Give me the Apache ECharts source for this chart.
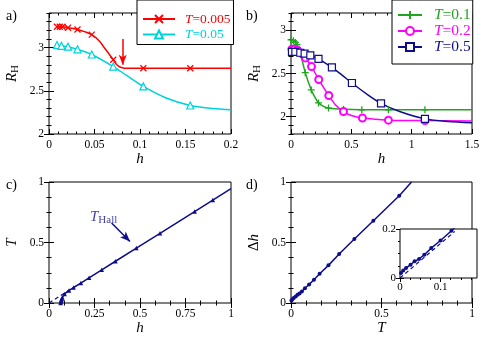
<!DOCTYPE html>
<html><head><meta charset="utf-8">
<script src="https://cdn.jsdelivr.net/npm/echarts@6/dist/echarts.min.js"></script>
<style>html,body{margin:0;padding:0;background:#fff}#c{width:485px;height:352px}</style>
</head><body><div id="c"></div>
<script>
// ---------- data ----------
// panel a: R_H vs h
const aRedMarkH = [0.0088,0.0118,0.0148,0.0209,0.0313,0.047,0.0706,0.1037,0.1552];
const aRedMarkR = [3.24,3.24,3.24,3.23,3.21,3.15,2.86,2.76,2.76];
const aRedFitH  = [0.039,0.055,0.06,0.065,0.0745,0.078,0.083,0.09,0.13,0.2];
const aRedFitR  = [3.185,3.08,3.01,2.94,2.80,2.775,2.762,2.76,2.76,2.76];
const aCyMarkH  = [0.0088,0.0137,0.0209,0.0313,0.047,0.0706,0.1037,0.1552];
const aCyMarkR  = [3.03,3.02,3.01,2.98,2.92,2.78,2.55,2.33];
const aCyFitH   = [0.085,0.128,0.18,0.2];
const aCyFitR   = [2.68,2.42,2.295,2.28];
const aArrowH = [0.081,0.081], aArrowR = [3.10,2.80];
// panel b
const bGrMarkH = [0.0,0.02,0.036,0.05,0.118,0.168,0.228,0.311,0.435,0.587,0.807,1.11];
const bGrMarkR = [2.89,2.88,2.86,2.835,2.51,2.31,2.16,2.10,2.085,2.08,2.08,2.08];
const bGrFitH  = [0.085,0.2,0.27,1.5];
const bGrFitR  = [2.69,2.22,2.12,2.08];
const bMgMarkH = [0.008,0.025,0.055,0.09,0.12,0.17,0.23,0.313,0.435,0.592,0.807,1.11];
const bMgMarkR = [2.78,2.78,2.77,2.73,2.68,2.58,2.43,2.245,2.06,1.985,1.96,1.955];
const bMgFitH  = [0.37,0.5,1.5];
const bMgFitR  = [2.135,2.015,1.95];
const bNvMarkH = [0.008,0.036,0.077,0.113,0.16,0.228,0.339,0.505,0.746,1.11];
const bNvMarkR = [2.75,2.75,2.74,2.73,2.71,2.67,2.57,2.39,2.155,1.975];
const bNvFitH  = [0.42,0.62,0.9,1.3,1.5];
const bNvFitR  = [2.485,2.27,2.06,1.945,1.93];
// panel c: T_Hall(h)
const cMarkH = [0.064,0.065,0.066,0.068,0.07,0.073,0.086,0.11,0.135,0.175,0.22,0.29,0.365,0.48,0.61,0.8,0.9];
const cMarkT = [0.0,0.008,0.016,0.026,0.036,0.045,0.075,0.104,0.128,0.165,0.208,0.274,0.345,0.454,0.576,0.756,0.851];
const cFitH  = [0.063,1.0];
const cFitT  = [0.0,0.945];
const cDashH = [0.0,0.13], cDashT = [0.0,0.125];
const cArrowH = [0.344,0.445], cArrowT = [0.661,0.509];
const cLabelH = [0.30], cLabelT = [0.713];
// panel d: Δh vs T
const dMarkT  = [0.0025,0.008,0.015,0.026,0.036,0.047,0.06,0.077,0.1,0.127,0.158,0.207,0.266,0.35,0.455,0.598];
const dMarkDh = [0.02,0.031,0.041,0.054,0.068,0.078,0.095,0.122,0.153,0.193,0.242,0.311,0.405,0.529,0.68,0.887];
const dFitT = [0.666], dFitDh = [1.0];
const dDashT = [0.0,0.135], dDashDh = [0.0,0.19];
// tick labels
const aTickX=[0,0.05,0.1,0.15,0.2], aTickY=[2,2.5,3];
const bTickX=[0,0.5,1,1.5],        bTickY=[2,2.5,3];
const cTickX=[0,0.25,0.5,0.75,1],  cTickY=[0,0.5,1];
const dTickX=[0,0.5,1],            dTickY=[0,0.5,1];
const iTickX=[0,0.1],              iTickY=[0,0.2];

// ---------- styling ----------
const FONT = '"Liberation Serif","Times New Roman",serif';
const RED='#ff0000', CYAN='#00d2dc', GREEN='#1fa61f', MAG='#ff00ff', NAVY='#0d0d8c';

function ticks(min,max,step){const o=[];for(let k=0;min+k*step<=max+1e-9;k++)o.push(+(min+k*step).toFixed(6));return o;}
function pairs(xs,ys){return xs.map((x,i)=>[x,ys[i]]);}
function merged(mx,my,fx,fy){
  const p = mx.map((x,i)=>({value:[x,my[i]]}));
  fx.forEach((x,i)=>p.push({value:[x,fy[i]],symbol:'none'}));
  p.sort((a,b)=>a.value[0]-b.value[0] || a.value[1]-b.value[1]);
  return p;
}
const rich = (c,fs)=>({
  i:{fontFamily:FONT,fontStyle:'italic',fontSize:fs,color:c},
  n:{fontFamily:FONT,fontSize:fs,color:c},
  s:{fontFamily:FONT,fontSize:Math.round(fs*0.7),color:c,padding:[7,0,0,0]}
});

const xAxes=[], yAxes=[];
function addAxes(list,dim,g,min,max,majors,step,o){
  const i0=list.length, minors=ticks(min,max,step);
  const pos = dim==='x'?['bottom','top']:['left','right'];
  for(let s=0;s<2;s++) for(let m=0;m<2;m++){
    const major = m===0;
    const ax = {gridIndex:g,type:'value',min,max,position:pos[s],
      splitLine:{show:false},axisLine:{show:false},axisPointer:{show:false},
      axisTick:{show:true,inside:true,length:major?o.maj:o.mn,customValues:major?majors:minors,lineStyle:{color:'#000',width:1}},
      axisLabel:{show:s===0&&major,customValues:majors,margin:o.margin,fontSize:o.fs,fontFamily:FONT,color:'#000'}};
    if(s===0&&major&&o.name){
      ax.name=o.name; ax.nameLocation='middle'; ax.nameGap=o.gap; ax.nameRotate=dim==='y'?90:0;
      ax.nameTextStyle={fontFamily:FONT,color:'#000',rich:rich('#000',o.nfs||15)};
    }
    list.push(ax);
  }
  return i0;
}
const M = {maj:5,mn:2.5,margin:5,fs:11.5};
const ax = {
  a:[addAxes(xAxes,'x',0,0,0.2,aTickX,0.01,{...M,name:'{i|h}',gap:7}), addAxes(yAxes,'y',0,2,3.4,aTickY,0.1,{...M,name:'{i|R}{s|H}',gap:28})],
  b:[addAxes(xAxes,'x',1,0,1.5,bTickX,0.1,{...M,name:'{i|h}',gap:7}), addAxes(yAxes,'y',1,1.8,3.2,bTickY,0.1,{...M,name:'{i|R}{s|H}',gap:28})],
  c:[addAxes(xAxes,'x',2,0,1,cTickX,1/12,{...M,name:'{i|h}',gap:7}), addAxes(yAxes,'y',2,0,1,cTickY,0.125,{...M,name:'{i|T}',gap:29})],
  d:[addAxes(xAxes,'x',3,0,1,dTickX,1/12,{...M,name:'{i|T}',gap:7}), addAxes(yAxes,'y',3,0,1,dTickY,0.125,{...M,name:'{n|Δ}{i|h}',gap:29})],
  i:[addAxes(xAxes,'x',4,0,0.19,iTickX,0.025,{maj:4,mn:2,margin:4,fs:11}), addAxes(yAxes,'y',4,0,0.2,iTickY,0.05,{maj:4,mn:2,margin:4,fs:11})]
};
const G = (k)=>({xAxisIndex:ax[k][0],yAxisIndex:ax[k][1]});
const gridBase = {show:true,borderColor:'#000',borderWidth:1,outerBoundsMode:'none',containLabel:false};
const grids = [
  {...gridBase,left:49,top:13,width:182,height:121},
  {...gridBase,left:291,top:13,width:181,height:121},
  {...gridBase,left:49,top:182,width:182,height:121},
  {...gridBase,left:291,top:182,width:181,height:121},
  {...gridBase,left:400,top:229,width:77,height:49,backgroundColor:'#fff',z:5}
];
function lineSeries(k,name,data,color,sym,size,fill,bw,extra){
  return Object.assign({type:'line',name,...G(k),data,smooth:0.3,
    symbol:sym,symbolSize:size,showSymbol:true,showAllSymbol:true,clip:true,
    lineStyle:{color,width:1.5},itemStyle:{color:fill,borderColor:color,borderWidth:bw},
    emphasis:{disabled:true},animation:false},extra||{});
}
const XSYM='path://M0,0L10,10M10,0L0,10', PSYM='path://M5,0L5,10M0,5L10,5';
const arrowML=(xs,ys,color)=>({silent:true,symbol:['none','arrow'],symbolSize:[6,10],
  lineStyle:{color,width:1.5,type:'solid'},label:{show:false},
  data:[[{coord:[xs[0],ys[0]]},{coord:[xs[1],ys[1]]}]]});

const series = [
  lineSeries('a','T=0.005',merged(aRedMarkH,aRedMarkR,aRedFitH,aRedFitR),RED,XSYM,6,RED,1.3,{markLine:arrowML(aArrowH,aArrowR,RED)}),
  lineSeries('a','T=0.05',merged(aCyMarkH,aCyMarkR,aCyFitH,aCyFitR),CYAN,'triangle',7,'#fff',1.2),
  lineSeries('b','T=0.1',merged(bGrMarkH,bGrMarkR,bGrFitH,bGrFitR),GREEN,PSYM,7,GREEN,1.3),
  lineSeries('b','T=0.2',merged(bMgMarkH,bMgMarkR,bMgFitH,bMgFitR),MAG,'circle',7,'#fff',2),
  lineSeries('b','T=0.5',merged(bNvMarkH,bNvMarkR,bNvFitH,bNvFitR),NAVY,'rect',7,'#fff',1.2),
  lineSeries('c','cfit',merged(cMarkH,cMarkT,cFitH,cFitT),NAVY,'triangle',4.5,NAVY,0,{smooth:false,markLine:arrowML(cArrowH,cArrowT,NAVY)}),
  {type:'line',name:'cdash',...G('c'),data:pairs(cDashH,cDashT),symbol:'none',lineStyle:{color:NAVY,width:1.2,type:[4,3]},animation:false},
  {type:'scatter',name:'clabel',...G('c'),data:pairs(cLabelH,cLabelT),symbolSize:0,animation:false,silent:true,
    label:{show:true,position:'inside',formatter:'{i|T}{s|Hall}',rich:rich(NAVY,15)}},
  lineSeries('d','dfit',merged(dMarkT,dMarkDh,dFitT,dFitDh),NAVY,'circle',4,NAVY,0,{smooth:false}),
  lineSeries('i','ifit',merged(dMarkT,dMarkDh,[],[]),NAVY,'circle',4,NAVY,0,{smooth:false,z:6}),
  {type:'line',name:'idash',...G('i'),data:pairs(dDashT,dDashDh),symbol:'none',z:6,lineStyle:{color:NAVY,width:1.2,type:[4,3]},animation:false}
];

const legItem=(n,c,fs,gap)=>({name:n,textStyle:{color:c,fontFamily:FONT,fontSize:fs,rich:{
  i:{fontFamily:FONT,fontStyle:'italic',fontSize:fs,color:c,padding:[0,0,0,gap]},
  r:{fontFamily:FONT,fontSize:fs,color:c}}}});
const legBase={orient:'vertical',selectedMode:false,borderColor:'#000',borderWidth:1,backgroundColor:'#fff',
  formatter:n=>'{i|T}{r|'+n.slice(1)+'}',itemHeight:10};
const legend=[
  {...legBase,left:137,top:0,itemWidth:32,itemGap:1.5,padding:[12,3,3,5],data:[legItem('T=0.005',RED,13.5,5),legItem('T=0.05',CYAN,13.5,5)]},
  {...legBase,left:392,top:0,itemWidth:24,itemGap:0,padding:[7,2,9,5],data:[legItem('T=0.1',GREEN,15.5,7),legItem('T=0.2',MAG,15.5,7),legItem('T=0.5',NAVY,15.5,7)]}
];
const tstyle={fontFamily:FONT,fontSize:14,fontWeight:'normal',color:'#000'};
const title=[
  {text:'a)',left:6,top:9,padding:0,textStyle:tstyle},
  {text:'b)',left:246,top:9,padding:0,textStyle:tstyle},
  {text:'c)',left:6,top:178,padding:0,textStyle:tstyle},
  {text:'d)',left:246,top:178,padding:0,textStyle:tstyle}
];
const chart = echarts.init(document.getElementById('c'),null,{renderer:'canvas'});
chart.setOption({animation:false,backgroundColor:'#fff',title,legend,grid:grids,xAxis:xAxes,yAxis:yAxes,series});
</script></body></html>
